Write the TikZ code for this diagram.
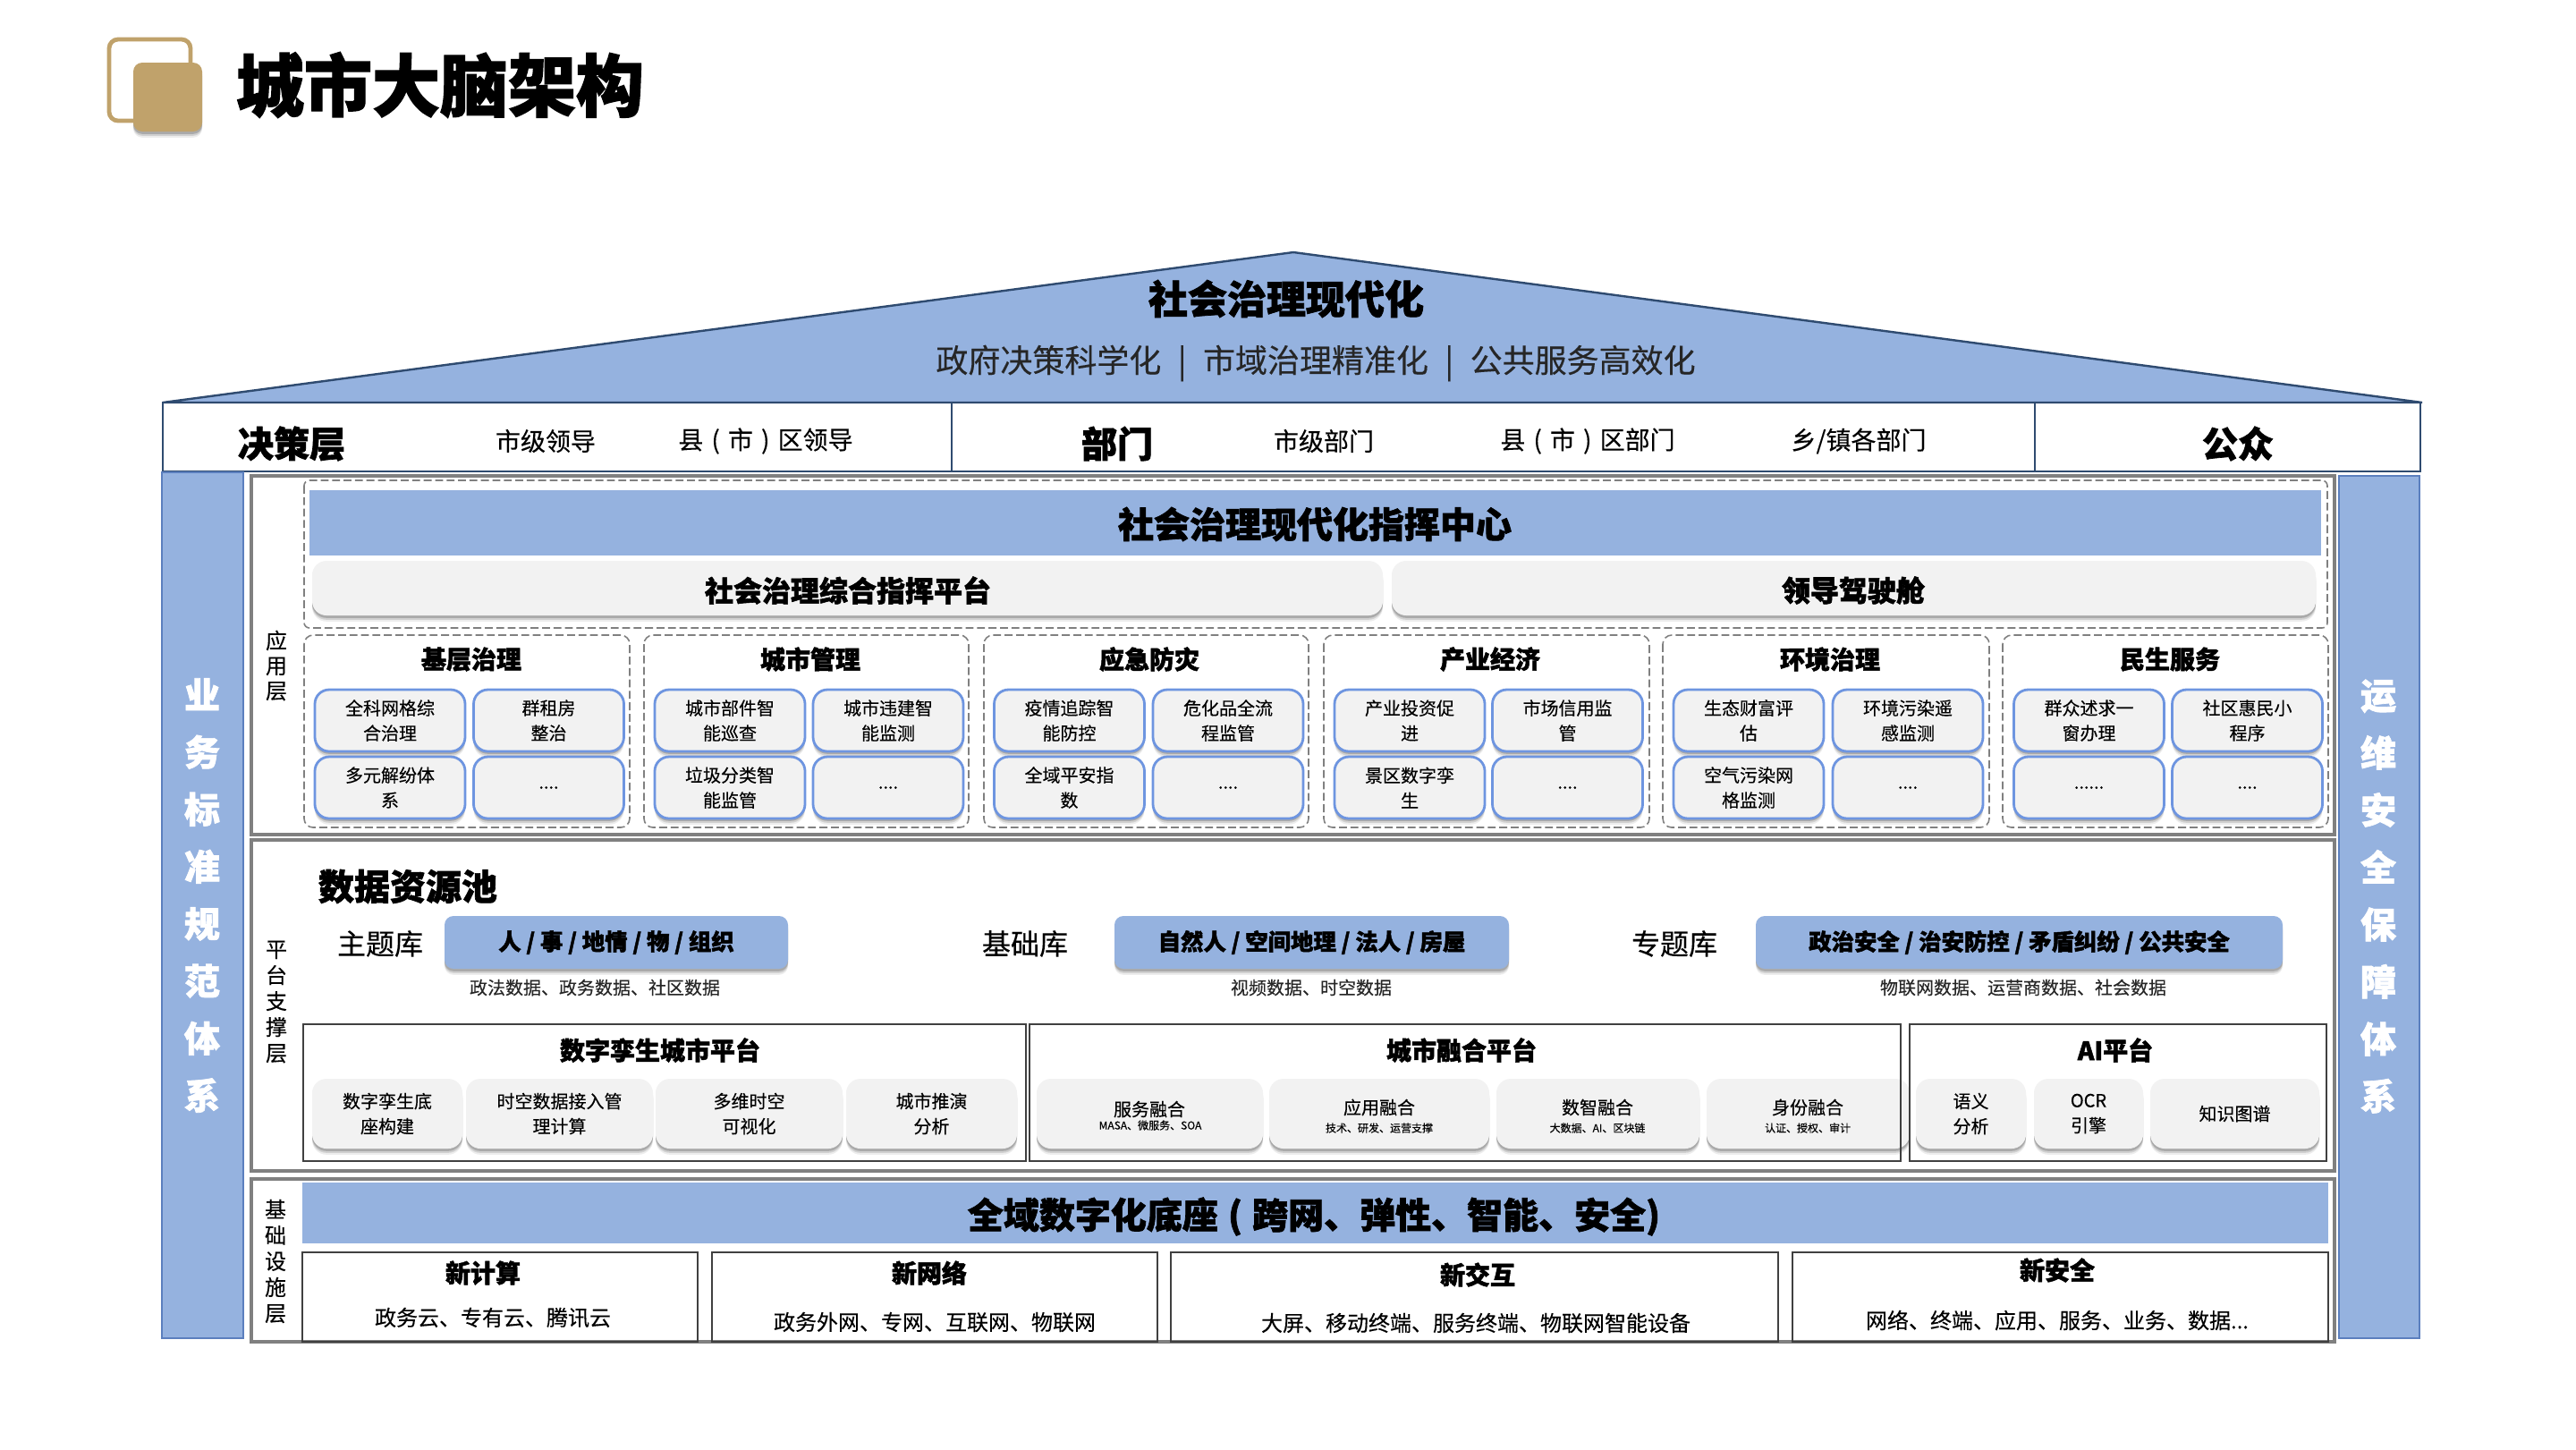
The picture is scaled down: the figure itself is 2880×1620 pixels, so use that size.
\documentclass[tikz,border=0pt]{standalone}
\usepackage{fontspec}
\setmainfont{Noto Sans CJK SC}[FakeBold=0.2,BoldFeatures={FakeBold=1.7}]
\usetikzlibrary{shadows}

\definecolor{roofblue}{HTML}{95B2DF}
\definecolor{darkline}{HTML}{2F4B70}
\definecolor{cellline}{HTML}{6E95E0}
\definecolor{cellgray}{HTML}{F2F2F2}
\definecolor{framegray}{HTML}{808080}
\definecolor{boxgray}{HTML}{404040}
\definecolor{gold}{HTML}{C0A26B}

\tikzset{
    softshadow/.style={
        drop shadow={shadow xshift=0pt,shadow yshift=-1.7pt,fill=black,opacity=.07},
        drop shadow={shadow xshift=0pt,shadow yshift=-1.2pt,fill=black,opacity=.12},
        drop shadow={shadow xshift=0pt,shadow yshift=-.7pt,fill=black,opacity=.18}},
    banner/.style={inner sep=0pt,font=\fontsize{10}{12}\selectfont\bfseries},
    layerframe/.style={draw=framegray,line width=.9pt,fill=white},
    dashbox/.style={draw=framegray,line width=.4pt,dash pattern=on 2.2pt off 1pt,rounded corners=2.5pt},
    platebox/.style={draw=boxgray,line width=.7pt},
    sidebar/.style={fill=roofblue,draw=cellline!70!darkline,line width=.3pt},
    sidetxt/.style={align=center,inner sep=0pt,text=white,font=\fontsize{10}{16}\selectfont\bfseries},
    layertxt/.style={align=center,inner sep=0pt,font=\fontsize{6}{7.25}\selectfont},
    titletxt/.style={inner sep=0pt,font=\fontsize{7}{9}\selectfont\bfseries},
    roletxt/.style={inner sep=0pt,font=\fontsize{7}{9}\selectfont},
    headtxt/.style={inner sep=0pt,font=\fontsize{10}{12}\selectfont\bfseries},
    smalltxt/.style={inner sep=0pt,text=black!85,font=\fontsize{5}{7}\selectfont},
    basetxt/.style={inner sep=0pt,font=\fontsize{6}{8}\selectfont},
    cell/.style={draw=cellline,fill=cellgray,line width=.7pt,rounded corners=4pt,inner sep=0pt,
        minimum width=42pt,minimum height=17.25pt,align=center,
        font=\fontsize{5}{7}\selectfont,execute at begin node={\vspace*{.8pt}},softshadow},
    graycell/.style={fill=cellgray,rounded corners=4pt,inner sep=0pt,minimum height=19.5pt,
        align=center,font=\fontsize{5}{7}\selectfont,execute at begin node={\vspace*{.8pt}},softshadow},
    pill/.style={fill=roofblue,rounded corners=2.5pt,inner sep=0pt,minimum height=14.75pt,
        font=\fontsize{6.35}{8}\selectfont\bfseries,softshadow}
}

\begin{document}
\begin{tikzpicture}[x=.25pt,y=-.25pt]

        \useasboundingbox (0,0) rectangle (2880,1620);

        % Title icon and title
        \draw[gold,line width=1.2pt,rounded corners=2.5pt] (122,44) rectangle (213,135);
        \fill[gold,rounded corners=2.5pt,softshadow] (149,70) rectangle (226,147);
        \node[inner sep=0pt,font=\fontsize{19}{22}\selectfont\bfseries] (maintitle) at (492,95) {城市大脑架构};

        % Roof
        \coordinate (roofL) at (182,450);
        \coordinate (roofT) at (1446,282);
        \coordinate (roofR) at (2708,450);
        \filldraw[fill=roofblue,draw=darkline,line width=.6pt] (roofL) -- (roofT) -- (roofR) -- cycle;
        \node[headtxt,font=\fontsize{11}{13}\selectfont\bfseries] (rooftitle) at (1438,334) {社会治理现代化};
        \node[inner sep=0pt,font=\fontsize{9}{11}\selectfont,text=black!85] (roofsub) at (1471,406) {政府决策科学化 \hspace{2.6pt}|\hspace{2.6pt} 市域治理精准化 \hspace{2.6pt}|\hspace{2.6pt} 公共服务高效化};

        % Decision row
        \draw[draw=darkline,line width=.4pt] (182,450) rectangle (2706,527);
        \draw[draw=darkline,line width=.4pt] (1064,450) -- (1064,527);
        \draw[draw=darkline,line width=.4pt] (2275,450) -- (2275,527);
        \node[headtxt] (juece) at (326,496) {决策层};
        \node[roletxt] (shiling) at (610,493) {市级领导};
        \node[roletxt] (xianling) at (856,493) {县 \hspace{.7pt}(\hspace{.7pt} 市 \hspace{.7pt})\hspace{.7pt} 区领导};
        \node[headtxt] (bumen) at (1249,496) {部门};
        \node[roletxt] (shibu) at (1480,493) {市级部门};
        \node[roletxt] (xianbu) at (1775,493) {县 \hspace{.7pt}(\hspace{.7pt} 市 \hspace{.7pt})\hspace{.7pt} 区部门};
        \node[roletxt] (xiangbu) at (2078,493) {乡/镇各部门};
        \node[headtxt] (gongzhong) at (2502,496) {公众};

        % Side bars
        \filldraw[sidebar] (181,528) rectangle (272,1496);
        \filldraw[sidebar] (2615,532) rectangle (2705,1496);
        \node[sidetxt] (yewu) at (226,1001) {业\\务\\标\\准\\规\\范\\体\\系};
        \node[sidetxt] (yunwei) at (2659,1002) {运\\维\\安\\全\\保\\障\\体\\系};

        % Layer frames
        \draw[layerframe] (281,532) rectangle (2610,933);
        \draw[layerframe] (281,939) rectangle (2610,1309);
        \draw[layerframe] (281,1318) rectangle (2610,1500);
        \node[layertxt,font=\fontsize{6}{7}\selectfont] (yingyong) at (309,744) {应\\用\\层};
        \node[layertxt] (pingtai) at (309,1120) {平\\台\\支\\撑\\层};
        \node[layertxt] (jichu) at (308,1410) {基\\础\\设\\施\\层};

        % Application layer
        \draw[dashbox,rounded corners=1.5pt] (340,537) rectangle (2602,702);
        \fill[roofblue] (346,548) rectangle (2595,621);
        \node[banner] (center) at (1470,586) {社会治理现代化指挥中心};
        \fill[cellgray,rounded corners=4pt,softshadow] (349,627) rectangle (1546,688);
        \fill[cellgray,rounded corners=4pt,softshadow] (1556,627) rectangle (2589,688);
        \node[inner sep=0pt,font=\fontsize{8}{10}\selectfont\bfseries] (zonghe) at (948,660) {社会治理综合指挥平台};
        \node[inner sep=0pt,font=\fontsize{8}{10}\selectfont\bfseries] (lingdao) at (2072,660) {领导驾驶舱};

        % Domain groups
        \draw[dashbox] (340,710) rectangle (704,925);
        \draw[dashbox] (720,710) rectangle (1083,925);
        \draw[dashbox] (1100,710) rectangle (1463,925);
        \draw[dashbox] (1480,710) rectangle (1844,925);
        \draw[dashbox] (1859,710) rectangle (2224,925);
        \draw[dashbox] (2239,710) rectangle (2603,925);
        \node[titletxt] (g1) at (527,737) {基层治理};
        \node[titletxt] (g2) at (906,737) {城市管理};
        \node[titletxt] (g3) at (1285,737) {应急防灾};
        \node[titletxt] (g4) at (1666,737) {产业经济};
        \node[titletxt] (g5) at (2046,737) {环境治理};
        \node[titletxt] (g6) at (2426,737) {民生服务};

        % Domain cells
        \node[cell] (c11) at (436,805.5) {全科网格综\\合治理};
        \node[cell] (c12) at (613.5,805.5) {群租房\\整治};
        \node[cell] (c13) at (436,880.5) {多元解纷体\\系};
        \node[cell] (c14) at (613.5,880.5) {....};
        \node[cell] (c21) at (816,805.5) {城市部件智\\能巡查};
        \node[cell] (c22) at (993,805.5) {城市违建智\\能监测};
        \node[cell] (c23) at (816,880.5) {垃圾分类智\\能监管};
        \node[cell] (c24) at (993,880.5) {....};
        \node[cell] (c31) at (1195.5,805.5) {疫情追踪智\\能防控};
        \node[cell] (c32) at (1373,805.5) {危化品全流\\程监管};
        \node[cell] (c33) at (1195.5,880.5) {全域平安指\\数};
        \node[cell] (c34) at (1373,880.5) {....};
        \node[cell] (c41) at (1576,805.5) {产业投资促\\进};
        \node[cell] (c42) at (1752.5,805.5) {市场信用监\\管};
        \node[cell] (c43) at (1576,880.5) {景区数字孪\\生};
        \node[cell] (c44) at (1752.5,880.5) {....};
        \node[cell] (c51) at (1955,805.5) {生态财富评\\估};
        \node[cell] (c52) at (2133,805.5) {环境污染遥\\感监测};
        \node[cell] (c53) at (1955,880.5) {空气污染网\\格监测};
        \node[cell] (c54) at (2133,880.5) {....};
        \node[cell] (c61) at (2335.5,805.5) {群众述求一\\窗办理};
        \node[cell] (c62) at (2512.5,805.5) {社区惠民小\\程序};
        \node[cell] (c63) at (2335.5,880.5) {......};
        \node[cell] (c64) at (2512.5,880.5) {....};

        % Data pool
        \node[headtxt] (shuju) at (456,991) {数据资源池};
        \node[inner sep=0pt,font=\fontsize{8}{10}\selectfont] (zhuti) at (425,1055) {主题库};
        \node[inner sep=0pt,font=\fontsize{8}{10}\selectfont] (jichuku) at (1146,1055) {基础库};
        \node[inner sep=0pt,font=\fontsize{8}{10}\selectfont] (zhuanti) at (1872,1055) {专题库};
        \node[pill,minimum width=96pt] (p1) at (689,1053.5) {人 / 事 / 地情 / 物 / 组织};
        \node[pill,minimum width=110.25pt] (p2) at (1466.5,1053.5) {自然人 / 空间地理 / 法人 / 房屋};
        \node[pill,minimum width=147.25pt] (p3) at (2257.5,1053.5) {政治安全 / 治安防控 / 矛盾纠纷 / 公共安全};
        \node[smalltxt] (s1) at (665,1104) {政法数据、政务数据、社区数据};
        \node[smalltxt] (s2) at (1466,1104) {视频数据、时空数据};
        \node[smalltxt] (s3) at (2262,1104) {物联网数据、运营商数据、社会数据};

        % Platform cells
        \node[graycell,minimum width=42pt] (d1) at (433,1245) {数字孪生底\\座构建};
        \node[graycell,minimum width=52.25pt] (d2) at (625.5,1245) {时空数据接入管\\理计算};
        \node[graycell,minimum width=52.25pt] (d3) at (837.5,1245) {多维时空\\可视化};
        \node[graycell,minimum width=47.75pt] (d4) at (1041.5,1245) {城市推演\\分析};
        \node[graycell,minimum width=63.25pt] (r1) at (1285.5,1245) {};
        \node[graycell,minimum width=61.5pt] (r2) at (1542,1245) {};
        \node[graycell,minimum width=56.75pt] (r3) at (1786.5,1245) {};
        \node[graycell,minimum width=56.75pt] (r4) at (2021.5,1245) {};
        \node[graycell,minimum width=30.75pt] (a1) at (2203.5,1245) {语义\\分析};
        \node[graycell,minimum width=30.5pt] (a2) at (2335,1245) {OCR\\引擎};
        \node[graycell,minimum width=47.25pt] (a3) at (2498.5,1245) {知识图谱};
        \node[inner sep=0pt,font=\fontsize{5}{6}\selectfont] (r1a) at (1285,1240) {服务融合};
        \node[inner sep=0pt,font=\fontsize{3}{4}\selectfont] (r1b) at (1286,1258) {MASA、微服务、SOA};
        \node[inner sep=0pt,font=\fontsize{5}{6}\selectfont] (r2a) at (1542,1238) {应用融合};
        \node[inner sep=0pt,font=\fontsize{3}{4}\selectfont] (r2b) at (1542,1261) {技术、研发、运营支撑};
        \node[inner sep=0pt,font=\fontsize{5}{6}\selectfont] (r3a) at (1786,1238) {数智融合};
        \node[inner sep=0pt,font=\fontsize{3}{4}\selectfont] (r3b) at (1786,1261) {大数据、AI、区块链};
        \node[inner sep=0pt,font=\fontsize{5}{6}\selectfont] (r4a) at (2021,1238) {身份融合};
        \node[inner sep=0pt,font=\fontsize{3}{4}\selectfont] (r4b) at (2021,1261) {认证、授权、审计};

        % Platform frames
        \draw[platebox] (339,1145) rectangle (1147,1298);
        \draw[platebox] (1151,1145) rectangle (2125,1298);
        \draw[platebox] (2135,1145) rectangle (2601,1298);
        \node[titletxt] (t1) at (738,1174) {数字孪生城市平台};
        \node[titletxt] (t2) at (1634,1174) {城市融合平台};
        \node[titletxt] (t3) at (2365,1174) {AI平台};

        % Infrastructure layer
        \fill[roofblue] (338,1322) rectangle (2603,1390);
        \node[banner] (base) at (1469,1360) {全域数字化底座 \hspace{.5pt}(\hspace{.5pt} 跨网、弹性、智能、安全)};
        \draw[platebox] (338,1400) rectangle (780,1500);
        \draw[platebox] (796,1400) rectangle (1294,1500);
        \draw[platebox] (1309,1400) rectangle (1988,1500);
        \draw[platebox] (2004,1400) rectangle (2603,1500);
        \node[titletxt] (b1) at (540,1423) {新计算};
        \node[titletxt] (b2) at (1039,1423) {新网络};
        \node[titletxt] (b3) at (1652,1425) {新交互};
        \node[titletxt] (b4) at (2300,1420) {新安全};
        \node[basetxt] (b1s) at (551,1473) {政务云、专有云、腾讯云};
        \node[basetxt] (b2s) at (1045,1478) {政务外网、专网、互联网、物联网};
        \node[basetxt] (b3s) at (1650,1479) {大屏、移动终端、服务终端、物联网智能设备};
        \node[basetxt] (b4s) at (2300,1476) {网络、终端、应用、服务、业务、数据...};

\end{tikzpicture}
\end{document}
